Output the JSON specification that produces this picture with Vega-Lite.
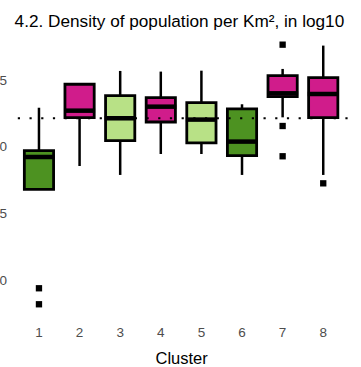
{
  "$schema": "https://vega.github.io/schema/vega-lite/v6.json",
  "autosize": "none",
  "width": 333,
  "height": 288,
  "padding": {"left": 14.6, "top": 30, "right": 13.4, "bottom": 49},
  "background": "white",
  "config": {
    "view": {"stroke": null},
    "font": "Liberation Sans"
  },
  "title": {
    "text": "4.2. Density of population per Km², in log10",
    "anchor": "start",
    "frame": "group",
    "fontSize": 17.2,
    "fontWeight": "normal",
    "font": "Liberation Sans",
    "color": "black",
    "offset": 0
  },
  "datasets": {
    "boxes": [
      {"cluster": "1", "lo": 1.68, "q1": 1.68, "med": 1.923, "q3": 1.97, "hi": 2.292, "group": "dark"},
      {"cluster": "2", "lo": 1.855, "q1": 2.218, "med": 2.27, "q3": 2.468, "hi": 2.475, "group": "pink"},
      {"cluster": "3", "lo": 1.788, "q1": 2.045, "med": 2.213, "q3": 2.383, "hi": 2.568, "group": "light"},
      {"cluster": "4", "lo": 1.945, "q1": 2.185, "med": 2.30, "q3": 2.368, "hi": 2.563, "group": "pink"},
      {"cluster": "5", "lo": 1.945, "q1": 2.028, "med": 2.203, "q3": 2.33, "hi": 2.57, "group": "light"},
      {"cluster": "6", "lo": 1.788, "q1": 1.933, "med": 2.038, "q3": 2.283, "hi": 2.318, "group": "dark"},
      {"cluster": "7", "lo": 2.22, "q1": 2.375, "med": 2.40, "q3": 2.533, "hi": 2.583, "group": "pink"},
      {"cluster": "8", "lo": 1.788, "q1": 2.218, "med": 2.395, "q3": 2.518, "hi": 2.758, "group": "pink"}
    ],
    "outliers": [
      {"cluster": "1", "value": 0.938},
      {"cluster": "1", "value": 0.818},
      {"cluster": "7", "value": 2.765},
      {"cluster": "7", "value": 2.155},
      {"cluster": "7", "value": 1.928},
      {"cluster": "8", "value": 1.725}
    ]
  },
  "encoding": {
    "x": {
      "field": "cluster",
      "type": "ordinal",
      "scale": {"domain": ["1","2","3","4","5","6","7","8"], "paddingInner": 0, "paddingOuter": 0.1},
      "axis": {
        "title": "Cluster",
        "labelAngle": 0,
        "labelFontSize": 13.5,
        "labelColor": "#4d4d4d",
        "labelPadding": 7,
        "ticks": false,
        "domain": false,
        "grid": false,
        "titleFontSize": 16.5,
        "titleFontWeight": "normal",
        "titleColor": "black",
        "titlePadding": 12
      }
    }
  },
  "layer": [
    {
      "data": {"name": "boxes"},
      "mark": {"type": "rule", "strokeWidth": 2.5, "color": "black"},
      "encoding": {
        "y": {
          "field": "lo",
          "type": "quantitative",
          "scale": {"domain": [0.715, 2.875], "zero": false, "nice": false},
          "axis": {
            "title": null,
            "values": [1, 1.5, 2, 2.5],
            "format": ".1f",
            "labelFontSize": 13.5,
            "labelColor": "#4d4d4d",
            "labelPadding": 8,
            "ticks": false,
            "domain": false,
            "grid": false
          }
        },
        "y2": {"field": "hi"}
      }
    },
    {
      "data": {"name": "boxes"},
      "mark": {"type": "bar", "width": {"band": 0.72}, "stroke": "black", "strokeWidth": 2.8},
      "encoding": {
        "y": {"field": "q1", "type": "quantitative"},
        "y2": {"field": "q3"},
        "fill": {
          "field": "group",
          "type": "nominal",
          "scale": {"domain": ["dark", "pink", "light"], "range": ["#4D9221", "#D01C8B", "#B8E186"]},
          "legend": null
        }
      }
    },
    {
      "data": {"name": "boxes"},
      "mark": {"type": "tick", "color": "black", "size": 31, "thickness": 4.5, "opacity": 1},
      "encoding": {
        "y": {"field": "med", "type": "quantitative"}
      }
    },
    {
      "data": {"name": "outliers"},
      "mark": {"type": "point", "shape": "square", "filled": true, "color": "black", "size": 40, "opacity": 1},
      "encoding": {
        "y": {"field": "value", "type": "quantitative"}
      }
    },
    {
      "data": {"values": [{"ref": 2.213}]},
      "mark": {"type": "rule", "color": "black", "strokeWidth": 2.2, "strokeDash": [2.2, 9.5]},
      "encoding": {
        "y": {"field": "ref", "type": "quantitative"},
        "x": null
      }
    }
  ]
}
